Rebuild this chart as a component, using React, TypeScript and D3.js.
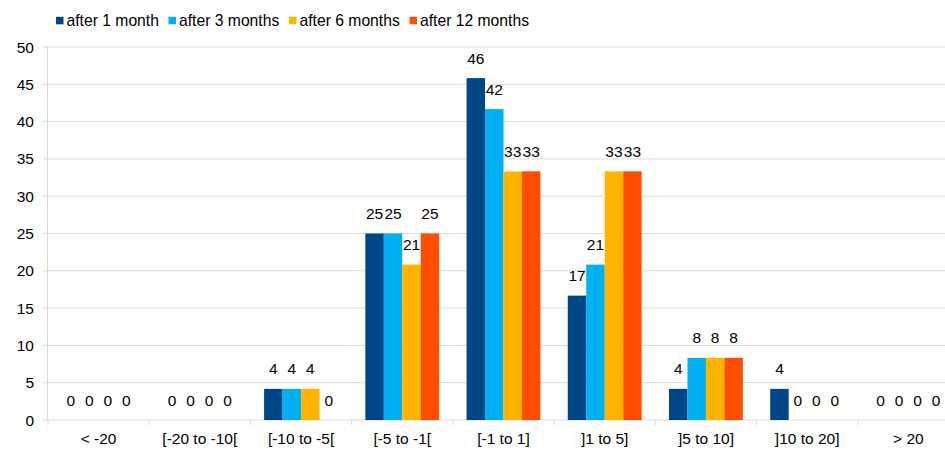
import React from 'react'
import { scaleBand, scaleLinear, range } from 'd3'

const categories = ['< -20', '[-20 to -10[', '[-10 to -5[', '[-5 to -1[', '[-1 to 1]', ']1 to 5]', ']5 to 10]', ']10 to 20]', '> 20']
const seriesNames = ['after 1 month', 'after 3 months', 'after 6 months', 'after 12 months']
const month1 = [0, 0, 4.17, 25, 45.83, 16.67, 4.17, 4.17, 0]
const month3 = [0, 0, 4.17, 25, 41.67, 20.83, 8.33, 0, 0]
const month6 = [0, 0, 4.17, 20.83, 33.33, 33.33, 8.33, 0, 0]
const month12 = [0, 0, 0, 25, 33.33, 33.33, 8.33, 0, 0]
const yTicks = [0, 5, 10, 15, 20, 25, 30, 35, 40, 45, 50]
const colors = ['#004586', '#00b0f0', '#ffb400', '#ff4e00']

const W = 945, H = 462
const font = 'Liberation Sans, Arial, sans-serif'

export default function App() {
  const series = [month1, month3, month6, month12]

  const x0 = scaleBand<string>().domain(categories).range([48, 959]).paddingInner(0.27).paddingOuter(0.135)
  const x1 = scaleBand<number>().domain(range(4)).range([0, x0.bandwidth()])
  const y = scaleLinear().domain([0, 50]).range([420, 47])
  const step = x0.step()
  const bandStart = (c: string) => x0(c)! - x0.paddingOuter() * step

  // legend layout
  const legendX = [56, 168.5, 289, 409.5]

  return (
    <svg width={W} height={H} style={{ position: 'absolute', left: 0, top: 0, background: '#fff' }} fontFamily={font}>
      {/* gridlines */}
      {yTicks.map(t => (
        <g key={t}>
          <line x1={43} x2={W} y1={y(t)} y2={y(t)} stroke="#d9d9d9" strokeWidth={1} />
          <text x={34} y={y(t) + 5.5} textAnchor="end" fontSize={15.5} fill="#000">{t}</text>
        </g>
      ))}
      <line x1={47.5} x2={47.5} y1={y(50)} y2={y(0)} stroke="#d9d9d9" />
      {/* category ticks */}
      {categories.map((c, i) => (
        <line key={'t' + i} x1={bandStart(c)} x2={bandStart(c)} y1={420} y2={425} stroke="#d9d9d9" />
      ))}
      {/* bars */}
      {categories.map((c, i) => (
        <g key={c} transform={`translate(${x0(c)},0)`}>
          {series.map((s, k) => (
            <rect key={k} x={x1(k)} width={x1.bandwidth()} y={y(s[i])} height={y(0) - y(s[i])} fill={colors[k]} />
          ))}
          {series.map((s, k) => (
            <text key={'l' + k} x={x1(k)! + x1.bandwidth() / 2} y={y(s[i]) - 14.5} textAnchor="middle" fontSize={15.5} fill="#000">
              {Math.round(s[i])}
            </text>
          ))}
        </g>
      ))}
      {/* category labels */}
      {categories.map(c => (
        <text key={'c' + c} x={bandStart(c) + step / 2} y={444} textAnchor="middle" fontSize={15.5} fill="#000">{c}</text>
      ))}
      {/* legend */}
      {seriesNames.map((n, k) => (
        <g key={n}>
          <rect x={legendX[k]} y={16.8} width={7.5} height={7.5} fill={colors[k]} />
          <text x={legendX[k] + 10.5} y={25.7} fontSize={15.7} fill="#000">{n}</text>
        </g>
      ))}
    </svg>
  )
}
